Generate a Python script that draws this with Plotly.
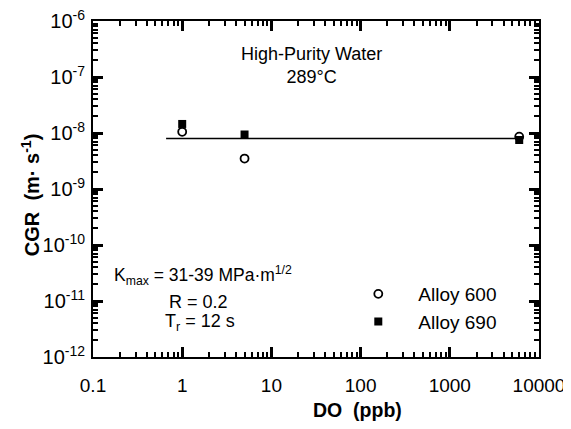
import plotly.graph_objects as go

# Data
do_ppb = [1, 5, 6000]
cgr_alloy600 = [1.05e-8, 3.5e-9, 8.6e-9]
cgr_alloy690 = [1.45e-8, 9.4e-9, 7.5e-9]
fit_do = [0.66, 6500]
fit_cgr = [8.0e-9, 8.0e-9]

x_tickvals = [0.1, 1, 10, 100, 1000, 10000]
x_ticktext = ["0.1", "1", "10", "100", "1000", "10000"]
y_tickvals = [1e-12, 1e-11, 1e-10, 1e-9, 1e-8, 1e-7, 1e-6]
y_ticktext = ["10<sup>-12</sup>", "10<sup>-11</sup>", "10<sup>-10</sup>", "10<sup>-9</sup>",
              "10<sup>-8</sup>", "10<sup>-7</sup>", "10<sup>-6</sup>"]

FONT = "Liberation Sans, Arial, sans-serif"

def minor_vals(lo, hi):
    return [m * 10.0 ** e for e in range(lo, hi) for m in range(2, 10)]

fig = go.Figure()
fig.add_trace(go.Scatter(x=fit_do, y=fit_cgr, mode="lines",
                         line=dict(color="black", width=1.6), showlegend=False, hoverinfo="skip"))
fig.add_trace(go.Scatter(x=do_ppb, y=cgr_alloy600, mode="markers", name="Alloy 600",
                         marker=dict(symbol="circle-open", size=8, color="black",
                                     line=dict(width=1.8, color="black"))))
fig.add_trace(go.Scatter(x=do_ppb, y=cgr_alloy690, mode="markers", name="Alloy 690",
                         marker=dict(symbol="square", size=8, color="black")))

axis_common = dict(showline=True, linecolor="black", linewidth=2, mirror="allticks",
                   ticks="inside", ticklen=10, tickwidth=2.5, tickcolor="#000000",
                   showgrid=False, zeroline=False, automargin=False)

fig.update_layout(
    template="simple_white",
    xaxis=dict(type="log", range=[-1, 4], tickmode="array", tickvals=x_tickvals, ticktext=x_ticktext,
               tickfont=dict(family=FONT, size=19, color="black"), ticklabelstandoff=10,
               minor=dict(ticks="inside", ticklen=5, tickwidth=1.5, tickcolor="#000000",
                          showgrid=False, tickmode="array", tickvals=minor_vals(-1, 4)),
               **axis_common),
    yaxis=dict(type="log", range=[-12, -6], tickmode="array", tickvals=y_tickvals, ticktext=y_ticktext,
               tickfont=dict(family=FONT, size=20, color="black"), ticklabelstandoff=2,
               ticklabeloverflow="allow",
               minor=dict(ticks="inside", ticklen=5, tickwidth=1.5, tickcolor="#000000",
                          showgrid=False, tickmode="array", tickvals=minor_vals(-12, -6)),
               **axis_common),
)

# axis titles
fig.add_annotation(xref="paper", yref="paper", x=0.592, y=-0.158, xanchor="center", yanchor="middle",
                   showarrow=False, text="<b>DO  (ppb)</b>",
                   font=dict(family=FONT, size=19.5, color="black"))
fig.add_annotation(xref="paper", yref="paper", x=-0.141, y=0.482, xanchor="center", yanchor="middle",
                   showarrow=False, textangle=-90, text="<b>CGR  (m· s<sup>-1</sup>)</b>",
                   font=dict(family=FONT, size=20, color="black"))

fig.add_annotation(xref="paper", yref="paper", x=0.491, y=0.869, xanchor="center", yanchor="middle",
                   showarrow=False, text="High-Purity Water<br>289°C",
                   font=dict(family=FONT, size=18, color="black"), align="center")
fig.add_annotation(xref="paper", yref="paper", x=0.043, y=0.244, xanchor="left", yanchor="middle",
                   showarrow=False, text="K<sub>max</sub> = 31-39 MPa·m<sup>1/2</sup>",
                   font=dict(family=FONT, size=17.5, color="black"))
fig.add_annotation(xref="paper", yref="paper", x=0.166, y=0.164, xanchor="left", yanchor="middle",
                   showarrow=False, text="R = 0.2", font=dict(family=FONT, size=18, color="black"))
fig.add_annotation(xref="paper", yref="paper", x=0.157, y=0.104, xanchor="left", yanchor="middle",
                   showarrow=False, text="T<sub>r</sub> = 12 s", font=dict(family=FONT, size=18, color="black"))

fig.update_layout(
    width=571, height=429,
    margin=dict(l=85, r=40, t=13, b=80, autoexpand=False),
    plot_bgcolor="white", paper_bgcolor="white",
    font=dict(family=FONT, color="black"),
    legend=dict(x=0.55, y=0.244, xanchor="left", yanchor="top",
                bgcolor="rgba(0,0,0,0)", itemwidth=70, tracegroupgap=0,
                font=dict(family=FONT, size=19, color="black")),
)

fig.write_html("out.html")
